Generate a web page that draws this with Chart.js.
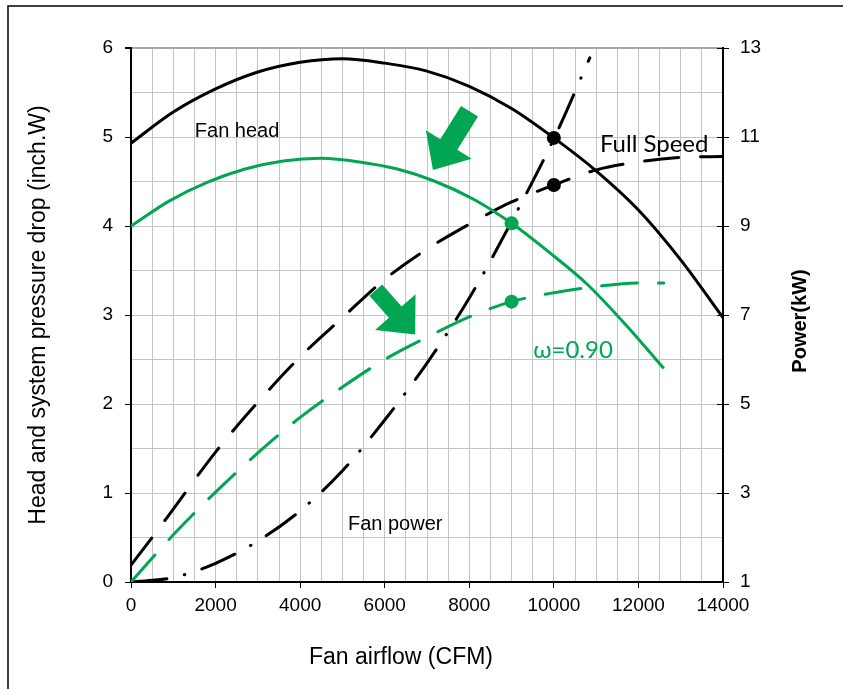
<!DOCTYPE html>
<html lang="en">
<head>
<meta charset="UTF-8">
<title>Fan head and power</title>
<script src="https://cdn.jsdelivr.net/npm/chart.js"></script>
<style>
  body { margin: 0; background: #fff; }
</style>
</head>
<body>
<canvas id="chart" width="843" height="689"></canvas>
<script>
// fan head at full speed (inch.W)
const flowFull = [0, 1000, 2000, 3000, 4000, 5000, 6000, 7000, 8000, 9000, 10000, 11000, 12000, 13000, 14000];
const headFull = [4.93, 5.28, 5.54, 5.73, 5.84, 5.88, 5.83, 5.74, 5.57, 5.32, 4.99, 4.62, 4.18, 3.62, 2.97];

// fan head at w = 0.90
const flow90 = [0, 900, 1800, 2700, 3600, 4500, 5400, 6300, 7200, 8100, 9000, 9900, 10800, 11700, 12600];
const head90 = [4.00, 4.28, 4.49, 4.64, 4.73, 4.76, 4.72, 4.64, 4.50, 4.30, 4.03, 3.70, 3.34, 2.89, 2.40];

// fan power (kW), full speed and w = 0.90
const flowPwFull = [0, 500, 1000, 2000, 3000, 4000, 5000, 6000, 7000, 8000, 9000, 10000, 11000, 12000, 13000, 14000];
const powerFull = [1.38, 2.00, 2.64, 3.92, 5.04, 6.06, 6.94, 7.80, 8.48, 9.04, 9.54, 9.92, 10.26, 10.44, 10.54, 10.56];
const flowPw90 = [0, 1000, 2000, 3000, 4000, 5000, 6000, 7000, 8000, 9000, 10000, 11000, 12000, 12600];
const power90 = [1.00, 2.06, 3.02, 3.90, 4.70, 5.38, 6.00, 6.50, 6.96, 7.30, 7.50, 7.64, 7.72, 7.72];

// system pressure drop (inch.W)
const flowSys = [0, 1000, 2000, 3000, 4000, 5000, 6000, 7000, 8000, 9000, 10000, 10850];
const dpSys = [0, 0.05, 0.21, 0.46, 0.80, 1.25, 1.82, 2.46, 3.19, 4.05, 4.98, 5.89];

// operating points
const opFlow = [10000, 9000];
const opHead = [4.99, 4.03];
const opPower = [9.92, 7.30];

const xTicks = [0, 2000, 4000, 6000, 8000, 10000, 12000, 14000];
const yTicks = [0, 1, 2, 3, 4, 5, 6];
const y2Ticks = [1, 3, 5, 7, 9, 11, 13];

const GREEN = '#00a651';
const pts = (xs, ys) => xs.map((x, i) => ({ x: x, y: ys[i] }));

// text and arrows, in data units
const notes = [
  { text: 'Fan head', x: 1510, y: 5.0, font: '20px "Liberation Sans"', color: '#000' },
  { text: 'Fan power', x: 5130, y: 0.58, font: '20px "Liberation Sans"', color: '#000' },
  { text: 'Full Speed', x: 11090, y: 4.835, font: '24px Lato', color: '#000' },
  { text: '\u03c9=0.90', x: 9510, y: 2.52, font: '24px Lato', color: GREEN }
];
const arrows = [
  { from: [8005, 5.29], to: [7140, 4.63], shaft: 20, head: 54, headLen: 30 },
  { from: [5790, 3.28], to: [6720, 2.78], shaft: 17, head: 54, headLen: 30 }
];

function drawArrow(ctx, x0, y0, x1, y1, sw, hw, hl) {
  const len = Math.hypot(x1 - x0, y1 - y0);
  const ux = (x1 - x0) / len, uy = (y1 - y0) / len;
  const nx = -uy, ny = ux;
  const bx = x1 - ux * hl, by = y1 - uy * hl;
  ctx.beginPath();
  ctx.moveTo(x0 + nx * sw / 2, y0 + ny * sw / 2);
  ctx.lineTo(bx + nx * sw / 2, by + ny * sw / 2);
  ctx.lineTo(bx + nx * hw / 2, by + ny * hw / 2);
  ctx.lineTo(x1, y1);
  ctx.lineTo(bx - nx * hw / 2, by - ny * hw / 2);
  ctx.lineTo(bx - nx * sw / 2, by - ny * sw / 2);
  ctx.lineTo(x0 - nx * sw / 2, y0 - ny * sw / 2);
  ctx.closePath();
  ctx.fill();
}

const decor = {
  id: 'decor',
  beforeDraw(chart) {
    const ctx = chart.ctx;
    ctx.save();
    ctx.fillStyle = '#fff';
    ctx.fillRect(0, 0, chart.width, chart.height);
    ctx.strokeStyle = '#000';
    ctx.lineWidth = 1.5;
    ctx.strokeRect(8, 6, 900, 900);
    ctx.restore();
  },
  afterDatasetsDraw(chart) {
    const ctx = chart.ctx, sx = chart.scales.x, sy = chart.scales.y;
    ctx.save();
    ctx.fillStyle = GREEN;
    arrows.forEach(a => {
      drawArrow(ctx,
        sx.getPixelForValue(a.from[0]), sy.getPixelForValue(a.from[1]),
        sx.getPixelForValue(a.to[0]), sy.getPixelForValue(a.to[1]),
        a.shaft, a.head, a.headLen);
    });
    ctx.textBaseline = 'alphabetic';
    ctx.textAlign = 'left';
    notes.forEach(n => {
      ctx.font = n.font;
      ctx.fillStyle = n.color;
      ctx.fillText(n.text, sx.getPixelForValue(n.x), sy.getPixelForValue(n.y));
    });
    ctx.restore();
  },
  afterDraw(chart) {
    const ctx = chart.ctx, area = chart.chartArea, s2 = chart.scales.y2;
    ctx.save();
    // inner half of the right axis ticks
    ctx.strokeStyle = '#000';
    ctx.lineWidth = 1;
    y2Ticks.forEach(v => {
      const p = Math.round(s2.getPixelForValue(v)) + 0.5;
      ctx.beginPath();
      ctx.moveTo(area.right - 6, p);
      ctx.lineTo(area.right, p);
      ctx.stroke();
    });
    ctx.fillStyle = '#000';
    ctx.textAlign = 'center';
    ctx.textBaseline = 'middle';
    ctx.font = '23px "Liberation Sans"';
    ctx.fillText('Fan airflow (CFM)', 401, 658);
    ctx.translate(39, (area.top + area.bottom) / 2);
    ctx.rotate(-Math.PI / 2);
    ctx.fillText('Head and system pressure drop (inch.W)', 0, 0);
    ctx.restore();
    ctx.save();
    ctx.fillStyle = '#000';
    ctx.textAlign = 'center';
    ctx.textBaseline = 'middle';
    ctx.font = 'bold 20px "Liberation Sans"';
    ctx.translate(800, (area.top + area.bottom) / 2 + 6);
    ctx.rotate(-Math.PI / 2);
    ctx.fillText('Power(kW)', 0, 0);
    ctx.restore();
  }
};

const tickFont = { family: '"Liberation Sans"', size: 19 };

new Chart(document.getElementById('chart').getContext('2d'), {
  type: 'line',
  data: {
    datasets: [
      { data: [{ x: opFlow[0], y: opHead[0] }], yAxisID: 'y', showLine: false, pointRadius: 7, pointBackgroundColor: '#000', pointBorderWidth: 0 },
      { data: [{ x: opFlow[0], y: opPower[0] }], yAxisID: 'y2', showLine: false, pointRadius: 7, pointBackgroundColor: '#000', pointBorderWidth: 0 },
      { data: [{ x: opFlow[1], y: opHead[1] }], yAxisID: 'y', showLine: false, pointRadius: 7, pointBackgroundColor: GREEN, pointBorderWidth: 0 },
      { data: [{ x: opFlow[1], y: opPower[1] }], yAxisID: 'y2', showLine: false, pointRadius: 7, pointBackgroundColor: GREEN, pointBorderWidth: 0 },
      { data: pts(flowFull, headFull), yAxisID: 'y', borderColor: '#000', borderWidth: 3, cubicInterpolationMode: 'monotone' },
      { data: pts(flow90, head90), yAxisID: 'y', borderColor: GREEN, borderWidth: 3, cubicInterpolationMode: 'monotone' },
      { data: pts(flowPwFull, powerFull), yAxisID: 'y2', borderColor: '#000', borderWidth: 3, borderDash: [34, 22], borderCapStyle: 'round', cubicInterpolationMode: 'monotone' },
      { data: pts(flowPw90, power90), yAxisID: 'y2', borderColor: GREEN, borderWidth: 3, borderDash: [36, 21], borderCapStyle: 'round', cubicInterpolationMode: 'monotone' },
      { data: pts(flowSys, dpSys), yAxisID: 'y', borderColor: '#000', borderWidth: 3, borderDash: [36, 18, 0.5, 18], borderCapStyle: 'round', cubicInterpolationMode: 'monotone' }
    ]
  },
  options: {
    responsive: false,
    animation: false,
    layout: { padding: { top: 48, left: 0, right: 0, bottom: 0 } },
    elements: { point: { radius: 0, hoverRadius: 0 } },
    plugins: { legend: { display: false }, tooltip: { enabled: false } },
    scales: {
      x: {
        type: 'linear', min: 0, max: 14000,
        afterFit: s => { s.height = 107; },
        ticks: {
          stepSize: 500, autoSkip: false, maxRotation: 0, padding: 6, color: '#000', font: tickFont,
          callback: v => xTicks.includes(v) ? String(v) : ''
        },
        grid: {
          color: '#c4c4c4', lineWidth: 1, tickLength: 6,
          tickColor: c => c.tick && xTicks.includes(c.tick.value) ? '#000' : 'rgba(0,0,0,0)'
        },
        border: { color: '#000', width: 2 }
      },
      y: {
        position: 'left', min: 0, max: 6,
        afterFit: s => { s.width = 131; },
        ticks: {
          stepSize: 0.5, autoSkip: false, padding: 12, color: '#000', font: tickFont,
          callback: v => yTicks.includes(v) ? String(v) : ''
        },
        grid: {
          color: c => c.tick && c.tick.value === 6 ? '#a8a8a8' : '#c4c4c4',
          lineWidth: c => c.tick && c.tick.value === 6 ? 2 : 1,
          tickLength: 6,
          tickColor: c => c.tick && yTicks.includes(c.tick.value) ? '#000' : 'rgba(0,0,0,0)'
        },
        border: { color: '#000', width: 2 }
      },
      y2: {
        position: 'right', min: 1, max: 13,
        afterFit: s => { s.width = 120; },
        ticks: { stepSize: 2, padding: 11, color: '#000', font: tickFont, callback: v => String(v) },
        grid: { drawOnChartArea: false, tickLength: 6, tickColor: '#000', lineWidth: 1 },
        border: { color: '#000', width: 2 }
      }
    }
  },
  plugins: [decor]
});
</script>
</body>
</html>
